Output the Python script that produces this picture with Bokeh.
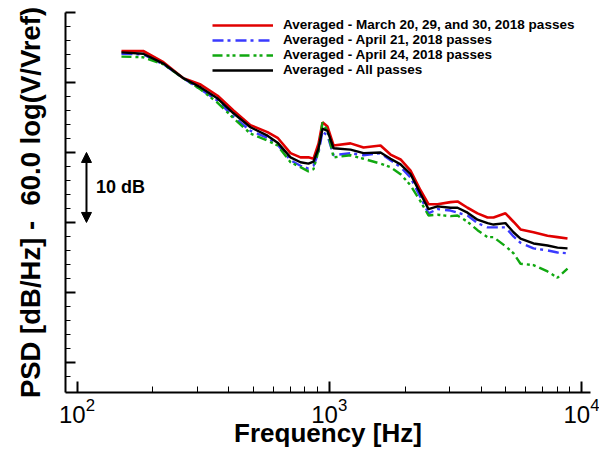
from bokeh.plotting import figure
from bokeh.models import (Range1d, FixedTicker, Arrow, NormalHead, Label,
                          Legend, LegendItem, CustomJSTickFormatter)
from bokeh.embed import file_html
from bokeh.resources import INLINE

# ---------------- data ----------------
freq_hz = [150, 183, 220, 264, 309, 361, 417, 487, 569, 624, 702, 769, 827, 866,
           907, 940, 984, 1040, 1214, 1367, 1597, 1749, 1917, 2100, 2300, 2474,
           2686, 3025, 3224, 3533, 3870, 4241, 4479, 4995, 5374, 5731, 6452,
           7333, 8033, 8800]

psd_march = [24.5, 24.5, 22.9, 20.6, 19.7, 18.1, 16.0, 13.9, 12.9, 12.1, 9.9, 9.3,
             9.3, 9.1, 11.3, 14.3, 13.7, 11.0, 11.3, 10.7, 11.0, 9.7, 9.0, 7.4,
             4.6, 2.6, 2.6, 2.9, 3.0, 2.1, 1.3, 0.7, 0.7, 1.3, 0.1, -1.0, -1.4,
             -1.9, -2.1, -2.3]
psd_apr21 = [24.1, 24.0, 22.6, 20.6, 19.0, 17.4, 15.1, 13.1, 12.1, 11.1, 8.9, 8.1,
             7.7, 8.1, 10.0, 13.0, 12.4, 9.6, 9.9, 9.6, 9.9, 8.9, 7.9, 6.4, 3.6,
             1.3, 1.9, 1.7, 1.4, 1.0, -0.1, -0.7, -0.7, -0.7, -2.0, -2.9, -3.7,
             -4.0, -4.3, -4.4]
psd_apr24 = [23.7, 23.6, 22.6, 20.6, 19.0, 17.1, 14.9, 12.7, 11.7, 11.0, 8.6, 7.9,
             7.3, 7.6, 10.3, 14.3, 13.1, 9.3, 9.6, 9.1, 8.4, 7.9, 6.9, 5.3, 3.0,
             1.0, 1.1, 0.9, 1.0, 0.1, -1.1, -2.1, -2.1, -3.4, -4.4, -5.9, -6.1,
             -7.0, -7.9, -6.6]
psd_all = [24.3, 24.1, 22.7, 20.6, 19.3, 17.7, 15.6, 13.6, 12.4, 11.4, 9.3, 8.6,
           8.4, 8.7, 10.6, 13.4, 13.1, 10.6, 10.4, 9.9, 10.0, 9.1, 8.3, 6.9, 4.1,
           1.9, 2.3, 2.1, 2.1, 1.4, 0.4, -0.1, -0.3, -0.1, -1.4, -2.3, -3.0, -3.3,
           -3.6, -3.7]

series_labels = ["Averaged - March 20, 29, and 30, 2018 passes",
                 "Averaged - April 21, 2018 passes",
                 "Averaged - April 24, 2018 passes",
                 "Averaged - All passes"]

x_major_ticks = [100, 1000, 10000]
x_minor_ticks = [200, 300, 400, 500, 600, 700, 800, 900,
                 2000, 3000, 4000, 5000, 6000, 7000, 8000, 9000]
y_major_ticks = [-20, -10, 0, 10, 20, 30]
y_minor_ticks = [-22, -18, -16, -14, -12, -8, -6, -4, -2, 2, 4, 6, 8, 12, 14, 16,
                 18, 22, 24, 26, 28]

scale_freq = 109
scale_lo, scale_hi = 0, 10
scale_text = "10 dB"
scale_text_freq = 119

FONT = "Liberation Sans"

p = figure(width=599, height=453, x_axis_type="log",
           x_range=Range1d(90.0, 10856), y_range=Range1d(-24.3, 30),
           output_backend="svg", toolbar_location=None,
           min_border_left=65, min_border_right=9, min_border_top=12,
           min_border_bottom=61)
p.outline_line_color = None
p.xgrid.visible = False
p.ygrid.visible = False
p.background_fill_color = "white"
p.border_fill_color = "white"

# x axis
xa = p.xaxis[0]
xa.ticker = FixedTicker(ticks=x_major_ticks, minor_ticks=x_minor_ticks)
xa.axis_line_width = 2
xa.axis_line_color = "black"
xa.major_tick_in = 11
xa.major_tick_out = 0
xa.minor_tick_in = 6
xa.minor_tick_out = 0
xa.major_tick_line_width = 2
xa.minor_tick_line_width = 1
xa.major_tick_line_color = "black"
xa.minor_tick_line_color = "black"
xa.major_label_text_font = FONT
xa.major_label_text_font_size = "24px"
xa.major_label_text_color = "black"
xa.major_label_standoff = 5
xa.axis_label = "Frequency [Hz]"
xa.axis_label_text_font = FONT
xa.axis_label_text_font_size = "26px"
xa.axis_label_text_font_style = "bold"
xa.axis_label_text_color = "black"
xa.axis_label_standoff = -8

# y axis
ya = p.yaxis[0]
ya.ticker = FixedTicker(ticks=y_major_ticks, minor_ticks=y_minor_ticks)
ya.formatter = CustomJSTickFormatter(code="return ''")
ya.axis_line_width = 2
ya.axis_line_color = "black"
ya.major_tick_in = 10
ya.major_tick_out = 0
ya.minor_tick_in = 5
ya.minor_tick_out = 0
ya.major_tick_line_width = 2
ya.minor_tick_line_width = 1
ya.major_tick_line_color = "black"
ya.minor_tick_line_color = "black"
ya.major_label_standoff = 0
ya.axis_label = "PSD [dB/Hz] -\u00a0 60.0 log(V/Vref)"
ya.axis_label_text_font = FONT
ya.axis_label_text_font_size = "27.5px"
ya.axis_label_text_font_style = "bold"
ya.axis_label_text_color = "black"
ya.axis_label_standoff = 20

# curves
r_march = p.line(freq_hz, psd_march, line_color="#e00000", line_width=2.6)
r_apr21 = p.line(freq_hz, psd_apr21, line_color="#3a3aff", line_width=2.4,
                 line_dash="11 4 3 5")
r_apr24 = p.line(freq_hz, psd_apr24, line_color="#10a810", line_width=2.4,
                 line_dash="10 4 3 3 3 4")
r_all = p.line(freq_hz, psd_all, line_color="black", line_width=2.4)

legend = Legend(items=[LegendItem(label=series_labels[0], renderers=[r_march]),
                       LegendItem(label=series_labels[1], renderers=[r_apr21]),
                       LegendItem(label=series_labels[2], renderers=[r_apr24]),
                       LegendItem(label=series_labels[3], renderers=[r_all])],
                location=(147, 315))
legend.border_line_color = None
legend.background_fill_alpha = 0
legend.padding = 0
legend.margin = 0
legend.spacing = 0
legend.glyph_width = 61
legend.glyph_height = 14
legend.label_height = 14
legend.label_standoff = 10
legend.label_text_font = FONT
legend.label_text_font_size = "13.5px"
legend.label_text_font_style = "bold"
legend.label_text_line_height = 1.0
legend.label_text_color = "black"
p.add_layout(legend)

# 10 dB scale arrow
p.add_layout(Arrow(start=NormalHead(size=10, fill_color="black", line_color="black"),
                   end=NormalHead(size=10, fill_color="black", line_color="black"),
                   x_start=scale_freq, y_start=scale_lo, x_end=scale_freq, y_end=scale_hi,
                   line_width=2, line_color="black"))
p.add_layout(Label(x=scale_text_freq, y=(scale_lo + scale_hi) / 2, text=scale_text,
                   text_font=FONT, text_font_size="18px", text_font_style="bold",
                   text_baseline="middle", text_align="left", text_color="black"))

open("out.html", "w").write(file_html(p, INLINE))
